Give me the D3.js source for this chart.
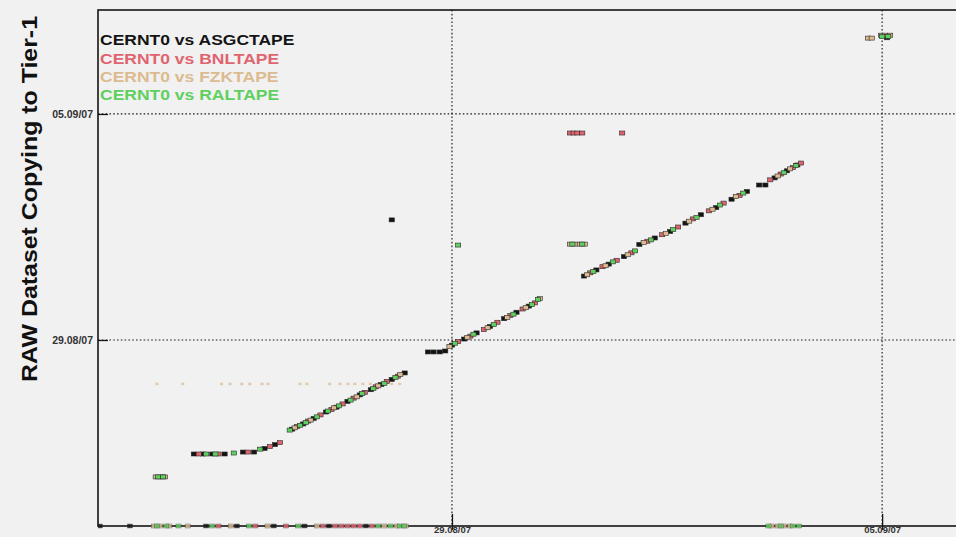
<!DOCTYPE html>
<html><head><meta charset="utf-8">
<script src="https://cdn.jsdelivr.net/npm/d3@7"></script>
<style>
html,body{margin:0;padding:0;background:#f1f1f1;}
svg{display:block;font-family:"Liberation Sans",Arial,sans-serif;}
</style></head>
<body>
<svg id="c" width="956" height="537"></svg>
<script>
// Values: days counted from 1 Aug 2007 (29 = 29.08/07, 36 = 05.09/07)
const seriesNames = ["CERNT0 vs ASGCTAPE","CERNT0 vs BNLTAPE","CERNT0 vs FZKTAPE","CERNT0 vs RALTAPE"];
const seriesColors = ["#141414","#e0646f","#dcbb90","#5fd05f"];
const tickDays = [29, 36];
const tickLabels = ["29.08/07","05.09/07"];
const yTitle = "RAW Dataset Copying to Tier-1";
const axisRange = [23.24, 39.22];

const asgcPoints = [[24.80,25.47],[24.95,25.47],[25.10,25.47],[25.30,25.47],[25.60,25.53],[25.78,25.53],[25.95,25.64],[26.12,25.76],
 [26.40,26.24],[26.58,26.40],[26.75,26.57],[26.95,26.77],[27.12,26.92],[27.30,27.10],[27.50,27.30],[27.68,27.46],[27.85,27.62],[28.02,27.78],[28.23,27.98],
 [28.02,32.72],
 [28.61,28.63],[28.70,28.63],[28.80,28.63],[28.89,28.66],
 [29.00,28.84],[29.20,29.03],[29.40,29.22],[29.62,29.42],[29.85,29.66],[30.05,29.86],[30.25,30.05],
 [31.15,30.98],[31.35,31.17],[31.55,31.35],[31.80,31.58],[32.05,31.96],[32.30,32.16],[32.55,32.36],[32.80,32.62],[33.05,32.88],[33.30,33.10],[33.55,33.36],[33.80,33.60],
 [34.00,33.80],[34.10,33.80],[34.25,34.02],[34.45,34.24],[34.62,34.42],
 [36.08,38.36]];
const bnlPoints = [[24.88,25.47],[25.20,25.47],[25.68,25.53],[26.04,25.70],[26.20,25.82],
 [26.48,26.32],[26.66,26.49],[26.86,26.68],[27.04,26.85],[27.22,27.02],[27.40,27.20],[27.58,27.38],[27.76,27.55],[27.94,27.72],[28.12,27.88],
 [29.10,28.95],[29.30,29.12],[29.52,29.32],[29.74,29.55],[29.95,29.76],[30.15,29.96],[30.35,30.15],
 [30.92,35.41],[30.98,35.41],[31.04,35.41],[31.12,35.41],[31.77,35.41],
 [31.25,31.08],[31.45,31.27],[31.68,31.47],[31.92,31.70],[32.18,32.06],[32.42,32.26],[32.68,32.50],[32.92,32.75],[33.18,33.00],[33.42,33.24],[33.68,33.48],
 [34.18,33.96],[34.35,34.14],[34.55,34.34],[34.68,34.48]];
const fzkPoints = [[24.18,24.76],[24.26,24.76],[24.33,24.76],
 [26.44,26.28],[26.70,26.52],[27.08,26.90],[27.45,27.24],[27.80,27.58],[28.16,27.93],
 [28.96,28.80],[29.25,29.08],[29.58,29.38],[29.90,29.70],[30.20,30.00],[30.43,30.28],
 [30.92,31.97],[31.00,31.97],[31.08,31.97],[31.16,31.97],
 [31.20,31.02],[31.50,31.30],[31.86,31.64],[32.12,32.02],[32.48,32.30],[32.86,32.68],[33.24,33.05],[33.62,33.44],
 [34.30,34.08],[34.50,34.30],
 [35.77,38.35],[35.83,38.35],[35.98,38.44],[36.05,38.44],[36.13,38.44]];
const ralPoints = [[24.22,24.76],[24.30,24.76],
 [25.00,25.47],[25.15,25.47],[25.45,25.50],[25.88,25.62],
 [26.36,26.21],[26.53,26.36],[26.62,26.44],[26.80,26.62],[26.98,26.80],[27.16,26.96],[27.35,27.14],[27.54,27.34],[27.72,27.50],[27.90,27.66],[28.08,27.84],
 [29.10,31.94],
 [29.05,28.90],[29.35,29.18],[29.68,29.48],[30.00,29.80],[30.30,30.10],[30.40,30.25],
 [30.96,31.97],[31.12,31.97],
 [31.30,31.12],[31.62,31.42],[31.98,31.76],[32.24,32.10],[32.60,32.42],[32.98,32.80],[33.36,33.18],[33.74,33.55],
 [34.40,34.18],[34.60,34.40],
 [36.00,38.40],[36.10,38.40]];
// FZK faint low row
const fzkLowRow = [[24.20,27.64],[24.62,27.64],[25.25,27.64],[25.39,27.64],[25.58,27.64],[25.71,27.64],[25.91,27.64],[26.01,27.64],[26.53,27.64],[26.64,27.64],
 [27.01,27.64],[27.18,27.64],[27.31,27.64],[27.42,27.64],[27.55,27.64],[27.67,27.64],[27.80,27.64],[27.91,27.64],[28.02,27.64],[28.15,27.64]];
// entries with no copy time (shown on the lower axis)
const asgcNone = [23.27,23.76,25.00,25.50,26.10,26.60,27.00,27.60];
const bnlNone = [25.20,25.80,26.30,26.90,27.10,27.20,27.30,27.40,27.50,27.70];
const fzkNone = [24.15,24.25,24.40,24.70,25.40,26.00,26.80,27.90,28.10,28.25,34.20,34.30,34.40,34.50];
const ralNone = [24.20,24.35,24.55,25.10,25.70,26.50,27.80,28.00,28.15,28.22,34.15,34.35,34.55,34.65];

const allPoints = [asgcPoints,bnlPoints,fzkPoints,ralPoints];
const allNone = [asgcNone,bnlNone,fzkNone,ralNone];

const toDate = d => new Date(Date.UTC(2007,7,1) + (d-1)*864e5);
const L = 98, T = 10, R = 1080, B = 526;
const x = d3.scaleUtc().domain(axisRange.map(toDate)).range([L,R]);
const y = d3.scaleUtc().domain(axisRange.map(toDate)).range([B,T]);

const svg = d3.select("#c");
svg.append("defs").append("clipPath").attr("id","clip")
  .append("rect").attr("x",L).attr("y",T-3).attr("width",R-L).attr("height",B-T+6);

// grid
const g = svg.append("g");
g.selectAll(".vg").data(tickDays).join("line")
  .attr("x1",d=>x(toDate(d))).attr("x2",d=>x(toDate(d)))
  .attr("y1",T).attr("y2",B).attr("stroke","#222").attr("stroke-width",1.2).attr("stroke-dasharray","1.6,2.2");
g.selectAll(".hg").data(tickDays).join("line")
  .attr("y1",d=>y(toDate(d))).attr("y2",d=>y(toDate(d)))
  .attr("x1",L).attr("x2",R).attr("stroke","#222").attr("stroke-width",1.2).attr("stroke-dasharray","1.6,2.2");

// frame
svg.append("rect").attr("x",L).attr("y",T).attr("width",R-L).attr("height",B-T)
  .attr("fill","none").attr("stroke","#151515").attr("stroke-width",1.6);

// ticks
const yAx = d3.axisLeft(y).tickValues(tickDays.map(toDate)).tickSize(-10).tickPadding(5)
  .tickFormat((d,i)=>tickLabels[i]);
const ya = svg.append("g").attr("transform",`translate(${L},0)`).call(yAx);
ya.select(".domain").remove();
ya.selectAll("line").attr("stroke","#151515").attr("stroke-width",1.3);
ya.selectAll("text").attr("font-size",10.5).attr("font-weight","bold").attr("fill","#333").attr("font-family","Liberation Sans, Arial");

const xAx = d3.axisBottom(x).tickValues(tickDays.map(toDate)).tickSizeInner(-12).tickSizeOuter(0).tickPadding(1)
  .tickFormat((d,i)=>tickLabels[i]);
const xa = svg.append("g").attr("transform",`translate(0,${B})`).call(xAx);
xa.select(".domain").remove();
xa.selectAll("line").attr("stroke","#151515").attr("stroke-width",1.3).attr("y2",-12).attr("y1",4);
xa.selectAll("text").attr("font-size",9.5).attr("font-weight","bold").attr("fill","#333").attr("font-family","Liberation Sans, Arial").attr("dy","0.62em");

// points
const pg = svg.append("g").attr("clip-path","url(#clip)");
const mw = 5.2, mh = 4;
allNone.forEach((arr,i)=>{
  pg.append("g").selectAll("rect").data(arr).join("rect")
    .attr("x",d=>x(toDate(d))-mw/2).attr("y",y.range()[0]-mh/2)
    .attr("width",mw).attr("height",mh)
    .attr("fill",seriesColors[i]).attr("stroke","#333").attr("stroke-width",0.4).attr("opacity",0.8);
});
pg.append("g").selectAll("rect").data(fzkLowRow).join("rect")
  .attr("x",d=>x(toDate(d[0]))-1.5).attr("y",d=>y(toDate(d[1]))-1.2)
  .attr("width",3).attr("height",2.4).attr("fill",seriesColors[2]).attr("opacity",0.75);
allPoints.forEach((arr,i)=>{
  pg.append("g").selectAll("rect").data(arr).join("rect")
    .attr("x",d=>x(toDate(d[0]))-mw/2).attr("y",d=>y(toDate(d[1]))-mh/2)
    .attr("width",mw).attr("height",mh)
    .attr("fill",seriesColors[i]).attr("stroke","#2a2a2a").attr("stroke-width",0.6);
});

// legend
svg.append("g").attr("transform","translate(100,0) scale(1.13,1)")
  .selectAll("text").data(seriesNames).join("text")
  .attr("x",0).attr("y",(d,i)=>45.5+i*18.2)
  .attr("font-size",15.5).attr("font-weight","bold")
  .attr("fill",(d,i)=>seriesColors[i]).text(d=>d);

// y title
svg.append("text").attr("transform","translate(37,199) rotate(-90)")
  .attr("text-anchor","middle").attr("font-size",22).attr("font-weight","bold").attr("fill","#111")
  .attr("textLength",366).attr("lengthAdjust","spacingAndGlyphs")
  .text(yTitle);
</script>
</body></html>
